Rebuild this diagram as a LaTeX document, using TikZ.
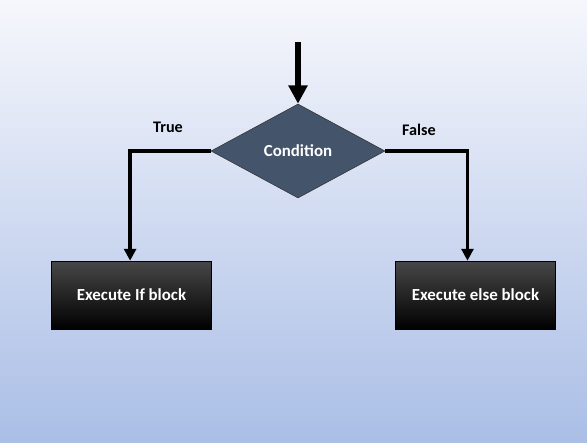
\documentclass[tikz,border=0pt]{standalone}
\usepackage{fontspec}
\setmainfont{Carlito}
\usepackage{xcolor}
\usetikzlibrary{shapes,arrows.meta,positioning,calc}

\definecolor{bgtop}{HTML}{F6F7FC}
\definecolor{bgbot}{HTML}{AABEE6}
\definecolor{slate}{HTML}{44546A}

\begin{document}
\begin{tikzpicture}[x=0.025cm,y=-0.025cm,
    decision/.style={diamond,draw=black!80,thin,fill=slate,text=white,font=\bfseries\fontsize{12}{14}\selectfont,minimum width=174*0.025cm,minimum height=94*0.025cm,inner sep=0pt},
    blockbox/.style={rectangle,draw=black,thin,top color=black!72,middle color=black,bottom color=black,text=white,font=\bfseries\fontsize{12}{14}\selectfont,minimum width=160*0.025cm,minimum height=68*0.025cm},
    branch/.style={font=\bfseries\fontsize{11.5}{14}\selectfont},
    flow/.style={line width=2.8pt,-{Triangle[width=8.5pt,length=8.5pt]}}]
        % background
        \shade[top color=bgtop,bottom color=bgbot] (0,0) rectangle (587,442);
        \useasboundingbox (0,0) rectangle (587,442);

        \coordinate (start) at (298,42);
        \node[decision] (cond) at (298,151) {Condition};
        \node[blockbox] (ifblk) at (131.5,295) {Execute If block};
        \node[blockbox] (elseblk) at (475.5,295) {Execute else block};

        \node[branch] (truelbl) at (168,127) {True};
        \node[branch] (falselbl) at (419,130) {False};

        \draw[line width=4.3pt,-{Triangle[width=13pt,length=13pt]}] (start) -- (cond.north);
        \draw[flow] (cond.west) -| ([xshift=-1pt]ifblk.north);
        \draw[flow] (cond.east) -| ([xshift=-5.7pt]elseblk.north);
    \end{tikzpicture}
\end{document}
